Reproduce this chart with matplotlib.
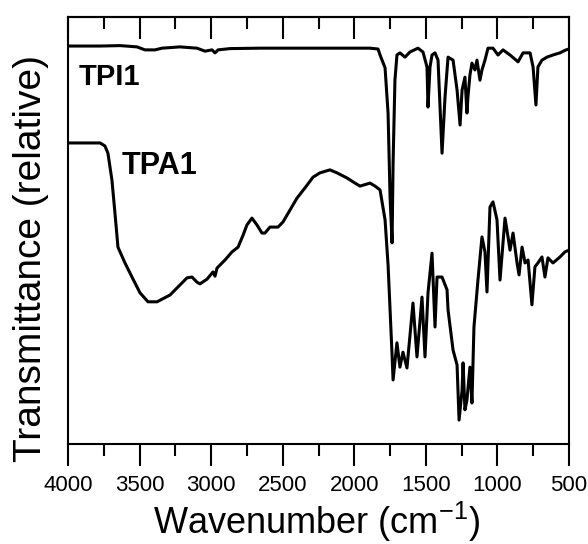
import numpy as np
import matplotlib
matplotlib.use("Agg")
import matplotlib.pyplot as plt
from matplotlib.ticker import MultipleLocator

plt.rcParams["font.family"] = ["Liberation Sans", "DejaVu Sans"]
plt.rcParams["mathtext.default"] = "regular"

# TPI1 spectrum (wavenumber, relative transmittance)
tpi1_wn = [4000, 3776, 3636, 3518, 3462, 3392, 3343, 3218, 3099, 3043, 2994, 2973, 2952,
           2868, 2659, 2379, 2100, 1890, 1834, 1820, 1806, 1785, 1764, 1750, 1736, 1729,
           1716, 1702, 1681, 1646, 1611, 1555, 1520, 1492, 1485, 1471, 1457, 1436, 1415,
           1387, 1366, 1345, 1310, 1282, 1261, 1247, 1227, 1213, 1206, 1192, 1178, 1157,
           1143, 1122, 1108, 1087, 1066, 1031, 996, 961, 912, 856, 821, 772, 751, 731,
           717, 689, 654, 612, 563, 521, 500]
tpi1_t = [93.2, 93.2, 93.3, 93.0, 92.3, 92.3, 92.7, 93.0, 92.7, 92.0, 92.3, 91.6, 92.3,
          92.6, 92.7, 92.7, 92.7, 92.7, 92.5, 91.1, 89.9, 88.1, 77.5, 57.8, 47.1, 65.8,
          85.2, 91.1, 91.6, 90.6, 91.8, 92.7, 91.8, 88.3, 78.9, 88.3, 91.1, 91.6, 89.9,
          68.1, 81.3, 90.6, 89.9, 82.9, 74.7, 82.9, 85.9, 77.5, 81.3, 86.4, 89.2, 87.6,
          89.9, 85.2, 87.6, 89.9, 92.7, 92.7, 91.1, 92.3, 91.1, 89.5, 91.6, 91.6, 88.3,
          79.4, 88.3, 89.9, 90.6, 91.1, 91.6, 92.3, 92.5]

# TPA1 spectrum
tpa1_wn = [4000, 3776, 3742, 3721, 3693, 3672, 3651, 3602, 3553, 3497, 3441, 3378, 3287,
           3169, 3134, 3099, 3078, 3029, 2987, 2973, 2959, 2903, 2854, 2812, 2777, 2750,
           2715, 2680, 2645, 2624, 2589, 2533, 2498, 2449, 2400, 2344, 2288, 2240, 2170,
           2121, 2051, 1995, 1960, 1890, 1855, 1820, 1785, 1764, 1750, 1736, 1729, 1702,
           1681, 1660, 1632, 1590, 1562, 1527, 1506, 1485, 1457, 1436, 1422, 1387, 1352,
           1345, 1310, 1282, 1268, 1247, 1240, 1227, 1213, 1192, 1178, 1164, 1136, 1108,
           1087, 1073, 1052, 1031, 1003, 982, 947, 926, 912, 891, 863, 849, 828, 807, 786,
           759, 738, 717, 689, 668, 647, 612, 563, 528, 500]
tpa1_t = [70.5, 70.5, 69.8, 68.1, 61.8, 54.1, 46.1, 42.4, 39.1, 35.4, 33.3, 33.3, 34.9,
          38.9, 39.1, 37.9, 37.5, 38.6, 40.3, 39.3, 41.2, 43.1, 45.0, 46.1, 48.9, 51.3,
          52.9, 51.3, 49.4, 49.4, 50.8, 50.8, 52.0, 54.8, 57.6, 60.0, 62.5, 63.5, 64.2,
          63.5, 62.3, 61.1, 60.4, 61.1, 60.4, 59.5, 52.5, 41.9, 31.4, 20.8, 15.0, 23.7,
          18.0, 21.5, 17.8, 33.0, 20.4, 34.4, 20.4, 35.4, 44.7, 27.4, 39.1, 39.1, 36.1,
          31.4, 22.0, 18.5, 5.6, 12.6, 19.0, 8.0, 10.3, 18.0, 9.6, 27.4, 38.4, 48.5,
          45.0, 35.6, 55.5, 56.7, 52.5, 38.4, 52.9, 48.5, 45.4, 49.4, 42.4, 39.6, 46.1,
          42.4, 43.1, 32.6, 41.5, 42.4, 43.8, 39.1, 43.6, 42.4, 43.8, 45.0, 45.4]

series_labels = ["TPI1", "TPA1"]

fig = plt.figure(figsize=(5.88, 5.44), dpi=100)
ax = fig.add_axes([68 / 588, 1 - 444 / 544, 501 / 588, 427 / 544])

ax.plot(tpi1_wn, tpi1_t, color="black", lw=2.2)
ax.plot(tpa1_wn, tpa1_t, color="black", lw=2.2)

ax.set_xlim(4000, 500)
ax.set_ylim(0, 100)
ax.set_yticks([])
for s in ax.spines.values():
    s.set_linewidth(1.5)

ax.xaxis.set_major_locator(MultipleLocator(500))
ax.xaxis.set_minor_locator(MultipleLocator(250))
ax.tick_params(axis="x", which="major", direction="out", length=16, width=1.5,
               labelsize=16, pad=6)
ax.tick_params(axis="x", which="minor", direction="out", length=8.5, width=1.5)

top = ax.secondary_xaxis("top")
top.xaxis.set_major_locator(MultipleLocator(500))
top.xaxis.set_minor_locator(MultipleLocator(250))
top.tick_params(which="major", direction="in", length=16, width=1.5, labeltop=False)
top.tick_params(which="minor", direction="in", length=8.5, width=1.5)
top.spines["top"].set_linewidth(1.5)

ax.text(3925, 86.0, series_labels[0], fontsize=21, fontweight="bold", va="center")
ax.text(3625, 65.0, series_labels[1], fontsize=22, fontweight="bold", va="center")

fig.text(317 / 588, 1 - 534 / 544, "Wavenumber (cm$^{-1}$)", fontsize=26,
         ha="center", va="baseline")
fig.text(31 / 588, 1 - 258 / 544, "Transmittance (relative)", fontsize=28,
         rotation=90, ha="center", va="center")

fig.savefig("out.png", dpi=100)
